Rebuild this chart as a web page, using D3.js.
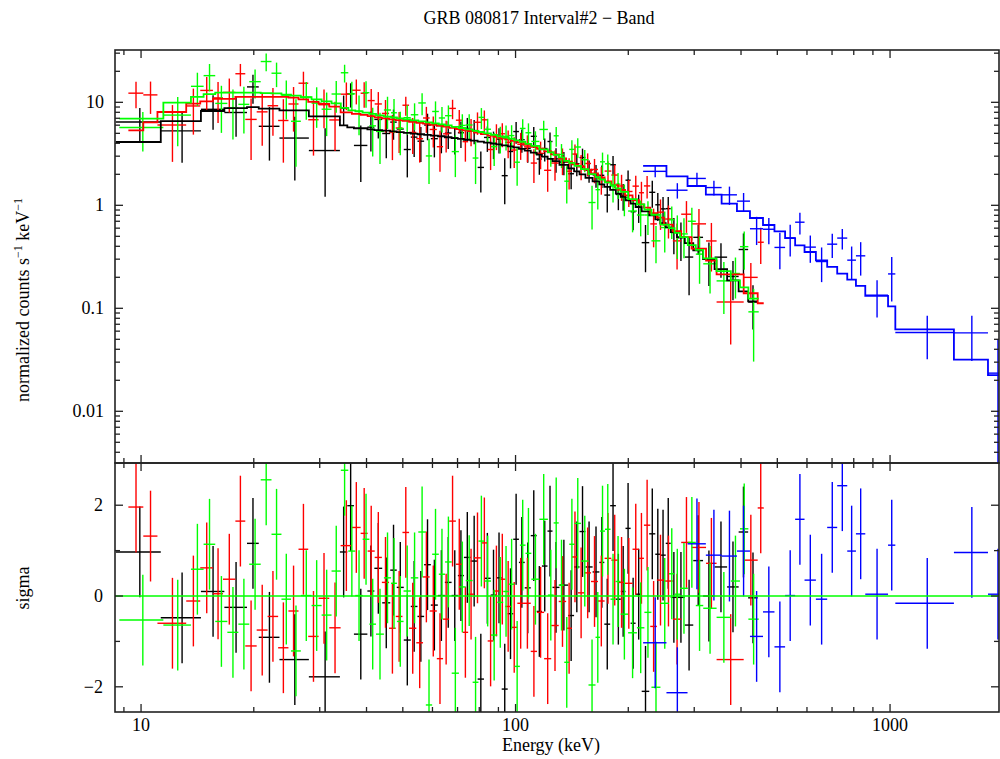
<!DOCTYPE html>
<html><head><meta charset="utf-8">
<script src="https://cdn.jsdelivr.net/npm/d3@7"></script>
<style>
body{margin:0;background:#fff}
svg{display:block}
text{font-family:"Liberation Serif","Times New Roman",serif;fill:#000}
</style>
</head><body>
<svg id="c" width="1000" height="759"></svg>
<script>
// ---------------- DATA ----------------
// Detector n0 (black) : bin edges (keV), folded model, residual (sigma), relative error
const blackEdges = [8.56, 11.29, 14.45, 16.69, 19.18, 20.62, 23.42, 28.06, 33.96, 35.54, 37.02, 40.21, 41.97, 44.05, 46.28, 48.17, 50.29, 52.51, 54.72, 57.00, 59.40, 62.01, 64.75, 67.48, 70.15, 72.80, 75.87, 79.20, 82.35, 85.82, 88.84, 91.84, 95.30, 98.60, 102.1, 105.8, 109.8, 113.9, 117.6, 121.7, 125.5, 131.0, 138.2, 143.3, 148.2, 153.7, 160.6, 167.4, 172.6, 178.9, 185.3, 191.0, 196.6, 202.9, 209.2, 217.2, 227.5, 236.1, 243.5, 251.8, 259.6, 269.8, 283.1, 298.2, 316.7, 340.0, 367.2, 394.2, 417.9, 443.2];
const blackModel = [4.12, 6.58, 8.24, 8.8, 9.0, 8.7, 8.36, 7.3, 5.98, 5.72, 5.6, 5.47, 5.38, 5.3, 5.23, 5.14, 5.05, 4.97, 4.9, 4.82, 4.74, 4.68, 4.58, 4.49, 4.41, 4.33, 4.24, 4.16, 4.07, 3.98, 3.91, 3.82, 3.74, 3.65, 3.53, 3.4, 3.25, 3.1, 2.97, 2.83, 2.68, 2.47, 2.28, 2.14, 2.0, 1.85, 1.71, 1.6, 1.51, 1.41, 1.3, 1.21, 1.12, 1.04, 0.96, 0.875, 0.8, 0.73, 0.67, 0.61, 0.55, 0.49, 0.43, 0.366, 0.3, 0.24, 0.187, 0.146, 0.117];
const blackSigma = [0.97, -0.48, 0.10, -0.25, 1.16, -0.91, -1.40, -1.78, 0.97, 1.99, -0.84, 0.11, 0.61, -0.15, 0.57, 0.19, -0.97, -0.23, -0.45, 0.69, -0.20, 0.01, 0.30, 0.01, 0.45, 0.85, 0.77, -1.83, 0.39, 0.02, 0.40, -2.05, -0.39, 1.25, 0.74, 0.18, 1.33, -0.34, 0.66, 1.43, 0.19, 0.24, -0.43, 0.64, 1.42, 0.64, 0.53, 0.74, -0.62, 1.99, -0.07, 0.10, 1.49, -0.60, 0.04, -2.10, 1.37, 0.92, 0.90, 1.16, -0.03, -0.03, -0.64, 0.78, 0.0, 0.64, 0.2, 1.41, -0.04];
const blackRelErr = [0.58, 0.41, 0.38, 0.38, 0.49, 0.36, 0.33, 0.30, 0.48, 0.56, 0.38, 0.44, 0.44, 0.40, 0.40, 0.37, 0.32, 0.33, 0.32, 0.36, 0.32, 0.32, 0.33, 0.31, 0.33, 0.34, 0.33, 0.24, 0.31, 0.30, 0.31, 0.24, 0.28, 0.34, 0.31, 0.29, 0.33, 0.27, 0.30, 0.33, 0.28, 0.27, 0.26, 0.29, 0.32, 0.29, 0.29, 0.30, 0.27, 0.38, 0.29, 0.30, 0.38, 0.28, 0.31, 0.24, 0.49, 0.42, 0.42, 0.45, 0.38, 0.40, 0.42, 0.43, 0.45, 0.48, 0.45, 1.1, 0.45];

// Detector n1 (red)
const redEdges = [9.25, 10.14, 11.06, 13.20, 14.39, 15.56, 16.55, 17.86, 18.98, 20.36, 21.77, 23.23, 24.75, 26.33, 27.95, 29.79, 31.81, 34.11, 36.56, 38.58, 40.28, 42.06, 43.96, 45.94, 47.87, 49.89, 51.96, 54.32, 56.62, 58.97, 61.63, 64.04, 66.49, 69.29, 72.21, 74.71, 77.43, 80.84, 84.25, 87.31, 90.50, 93.85, 97.27, 101.1, 105.3, 109.8, 114.1, 119.2, 124.5, 130.4, 136.5, 141.5, 146.7, 152.6, 159.0, 166.0, 172.9, 180.2, 187.8, 196.0, 205.3, 213.5, 220.2, 228.9, 238.5, 249.1, 263.0, 276.9, 295.1, 322.6, 344.2, 406.6, 443.2, 459.9];
const redModel = [5.35, 6.4, 8.05, 9.7, 10.2, 10.8, 10.8, 11.3, 11.3, 11.3, 11.3, 11.3, 11.1, 10.7, 10.1, 9.67, 9.1, 8.0, 7.73, 7.56, 7.34, 7.15, 6.99, 6.84, 6.72, 6.6, 6.48, 6.32, 6.21, 6.05, 5.91, 5.8, 5.65, 5.51, 5.35, 5.25, 5.08, 4.92, 4.75, 4.63, 4.47, 4.37, 4.23, 4.09, 3.87, 3.7, 3.54, 3.34, 3.12, 2.86, 2.65, 2.5, 2.37, 2.22, 2.04, 1.87, 1.71, 1.57, 1.41, 1.25, 1.12, 1.02, 0.95, 0.84, 0.76, 0.65, 0.56, 0.49, 0.38, 0.29, 0.214, 0.14, 0.112];
const redSigma = [1.96, 1.32, -0.60, -0.11, 0.62, 0.05, 0.37, 1.65, -1.10, -0.75, -0.45, -1.14, -0.33, 1.03, -0.89, -0.05, -0.70, 1.11, 1.51, 1.38, 0.99, 0.85, 0.30, -0.71, -0.45, 1.40, -0.71, -1.03, 0.42, -0.33, -1.38, -0.51, 1.65, 0.70, -0.80, 0.04, 0.84, 1.17, -0.99, 0.11, 0.37, -0.23, -0.69, -0.16, -0.16, -1.22, -0.36, -1.38, -0.65, -0.12, -0.71, 0.86, 0.07, 0.51, 0.32, -0.11, 0.83, 0.79, 0.30, 0.28, 1.03, 0.83, 1.56, -0.67, 0.35, 0.33, -0.51, 1.18, 1.07, 0.72, -1.40, 0.79, 1.94];
const redRelErr = [0.66, 0.64, 0.42, 0.45, 0.45, 0.44, 0.42, 0.41, 0.36, 0.38, 0.40, 0.36, 0.40, 0.42, 0.37, 0.40, 0.37, 0.45, 0.46, 0.45, 0.42, 0.41, 0.39, 0.35, 0.36, 0.30, 0.30, 0.29, 0.32, 0.30, 0.27, 0.29, 0.33, 0.31, 0.28, 0.30, 0.31, 0.32, 0.27, 0.29, 0.29, 0.28, 0.27, 0.28, 0.28, 0.25, 0.27, 0.25, 0.27, 0.28, 0.27, 0.30, 0.28, 0.29, 0.29, 0.29, 0.31, 0.32, 0.31, 0.32, 0.36, 0.36, 0.40, 0.32, 0.37, 0.40, 0.38, 0.57, 0.69, 0.77, 0.33, 0.54, 1.5];

// Detector n2 (green)
const greenEdges = [8.75, 11.47, 13.59, 14.69, 15.78, 17.00, 18.19, 19.45, 20.87, 22.30, 23.71, 25.14, 26.71, 28.53, 30.35, 32.26, 34.15, 35.76, 37.34, 39.06, 40.70, 42.40, 44.51, 46.51, 48.22, 50.23, 52.51, 54.99, 57.60, 59.88, 62.39, 64.83, 67.53, 70.59, 73.60, 76.81, 79.60, 82.51, 85.98, 89.38, 92.70, 95.95, 99.27, 102.7, 106.3, 110.2, 115.8, 122.0, 126.4, 130.4, 134.9, 139.1, 143.7, 149.5, 156.6, 163.5, 168.1, 173.3, 179.3, 184.9, 190.7, 199.8, 210.9, 220.8, 230.6, 243.7, 256.8, 265.8, 274.9, 288.4, 302.9, 317.1, 344.2, 375.7, 397.4, 418.5, 446.0];
const greenModel = [6.95, 9.93, 11.3, 12.0, 12.4, 12.4, 12.4, 12.4, 12.3, 12.2, 11.9, 11.6, 11.2, 10.7, 10.2, 9.78, 8.84, 8.36, 8.18, 7.94, 7.73, 7.48, 7.26, 7.12, 6.99, 6.84, 6.69, 6.54, 6.39, 6.25, 6.11, 5.98, 5.78, 5.63, 5.47, 5.29, 5.15, 5.0, 4.84, 4.68, 4.55, 4.43, 4.28, 4.14, 3.95, 3.78, 3.5, 3.27, 3.09, 2.92, 2.7, 2.58, 2.41, 2.25, 2.01, 1.88, 1.78, 1.67, 1.57, 1.46, 1.35, 1.15, 1.02, 0.91, 0.81, 0.65, 0.6, 0.54, 0.49, 0.41, 0.37, 0.306, 0.23, 0.187, 0.16, 0.124];
const greenSigma = [-0.53, -0.64, 0.59, 1.14, -0.56, -0.80, -0.62, 0.70, 2.56, 1.36, -0.07, -1.21, 0.01, -0.21, -0.42, 0.55, 2.77, 0.99, 0.01, 1.25, -0.62, -0.84, 0.40, 0.28, -0.56, 0.11, 0.40, 1.41, -2.40, 0.92, 0.48, 0.75, -1.70, 0.20, 0.34, -1.90, 1.21, 0.33, -0.86, -0.14, 0.10, 0.26, -1.55, 1.12, 0.94, 0.37, 1.69, 0.02, 1.61, 0.24, -1.46, 1.14, 1.60, 0.77, -1.96, -0.91, 1.43, 1.47, -0.07, 0.32, -0.40, -0.81, -0.70, -0.36, -2.01, -0.16, 0.49, 0.04, 0.17, 1.18, -0.21, -0.27, -0.47, 0.33, 1.48, -0.51];
const greenRelErr = [0.34, 0.38, 0.45, 0.45, 0.38, 0.36, 0.37, 0.40, 0.40, 0.42, 0.40, 0.36, 0.40, 0.39, 0.38, 0.42, 0.43, 0.45, 0.42, 0.45, 0.38, 0.36, 0.40, 0.40, 0.36, 0.33, 0.33, 0.36, 0.22, 0.33, 0.32, 0.32, 0.25, 0.30, 0.30, 0.24, 0.32, 0.29, 0.27, 0.28, 0.28, 0.28, 0.25, 0.31, 0.30, 0.28, 0.33, 0.28, 0.33, 0.28, 0.25, 0.31, 0.33, 0.30, 0.24, 0.27, 0.34, 0.35, 0.30, 0.31, 0.30, 0.29, 0.30, 0.32, 0.22, 0.40, 0.42, 0.46, 0.45, 0.60, 0.44, 0.43, 0.42, 0.50, 1.0, 0.50];

// Detector b0 (blue, BGO)
const blueEdges = [219.1, 252.9, 287.9, 322.2, 355.0, 390.1, 422.6, 457.9, 491.3, 524.5, 557.9, 591.1, 633.8, 679.4, 722.6, 768.6, 810.8, 858.7, 987.8, 1033, 1481, 1826, 2057];
const blueModel = [2.41, 1.91, 1.54, 1.27, 1.04, 0.88, 0.753, 0.644, 0.559, 0.481, 0.409, 0.352, 0.292, 0.252, 0.217, 0.19, 0.165, 0.132, 0.1045, 0.0625, 0.0318, 0.0224];
const blueSigma = [-1.03, -2.13, 1.15, 0.90, 0.88, 0.99, -0.89, -0.35, -1.12, 0.01, 1.69, 0.35, -0.07, 1.51, 2.43, 0.99, 1.37, 0.04, 1.12, -0.16, 0.96, 0.04];
const blueRelErr = [0.11, 0.125, 0.16, 0.19, 0.245, 0.25, 0.24, 0.26, 0.27, 0.34, 0.40, 0.33, 0.36, 0.44, 0.50, 0.55, 0.70, 0.40, 0.95, 0.42, 0.85, 1.2];

const xMajorTicks = [10, 100, 1000];
const xTickLabels = ["10", "100", "1000"];
const yTopMajorTicks = [0.01, 0.1, 1, 10];
const yTopTickLabels = ["0.01", "0.1", "1", "10"];
const yResMajorTicks = [-2, 0, 2];
const yResTickLabels = ["\u22122", "0", "2"];
const yResMinorTicks = [-1, 1];

const titleText = "GRB 080817 Interval#2 \u2212 Band";

// ---------------- LAYOUT ----------------
const L = 115, R = 999, T1 = 50, B1 = 463, T2 = 463, B2 = 712;
const svg = d3.select("#c");

const x = d3.scaleLog().domain([8.52, 1954]).range([L, R]);
const yTop = d3.scaleLog().domain([Math.pow(10, -2.502), Math.pow(10, 1.508)]).range([B1, T1]);
const yRes = d3.scaleLinear().domain([-2.555, 2.93]).range([B2, T2]);
const yMin = yTop.domain()[0];

const defs = svg.append("defs");
defs.append("clipPath").attr("id", "clipTop").append("rect").attr("x", L).attr("y", T1).attr("width", R - L).attr("height", B1 - T1);
defs.append("clipPath").attr("id", "clipRes").append("rect").attr("x", L).attr("y", T2).attr("width", R - L).attr("height", B2 - T2);

const series = [
  {edges: blackEdges, model: blackModel, sigma: blackSigma, rel: blackRelErr, color: "#000000"},
  {edges: redEdges, model: redModel, sigma: redSigma, rel: redRelErr, color: "#ff0000"},
  {edges: greenEdges, model: greenModel, sigma: greenSigma, rel: greenRelErr, color: "#00ff00"},
  {edges: blueEdges, model: blueModel, sigma: blueSigma, rel: blueRelErr, color: "#0000ff"}
];

function bins(s) {
  return s.model.map((m, i) => {
    const lo = s.edges[i], hi = s.edges[i + 1];
    const err = m * s.rel[i];
    const d = m + s.sigma[i] * err;
    return {lo, hi, c: (lo + hi) / 2, m, err, d, r: s.sigma[i]};
  });
}

const gTop = svg.append("g").attr("clip-path", "url(#clipTop)");
const gRes = svg.append("g").attr("clip-path", "url(#clipRes)");

// data crosses (top)
series.forEach(s => {
  const b = bins(s);
  const g = gTop.append("g").attr("stroke", s.color).attr("stroke-width", 1.4).attr("fill", "none");
  g.selectAll("line.h").data(b).enter().append("line")
    .attr("x1", d => x(d.lo)).attr("x2", d => x(d.hi))
    .attr("y1", d => yTop(d.d)).attr("y2", d => yTop(d.d));
  g.selectAll("line.v").data(b).enter().append("line")
    .attr("x1", d => x(d.c)).attr("x2", d => x(d.c))
    .attr("y1", d => yTop(d.d + d.err))
    .attr("y2", d => yTop(Math.max(d.d - d.err, yMin * 0.5)));
});

// model step lines (top)
series.forEach(s => {
  const b = bins(s);
  const p = d3.path();
  b.forEach((d, i) => {
    if (i === 0) p.moveTo(x(d.lo), yTop(d.m)); else p.lineTo(x(d.lo), yTop(d.m));
    p.lineTo(x(d.hi), yTop(d.m));
  });
  gTop.append("path").attr("d", p.toString()).attr("fill", "none")
    .attr("stroke", s.color).attr("stroke-width", 1.8);
});

// residuals
series.forEach(s => {
  const b = bins(s);
  const g = gRes.append("g").attr("stroke", s.color).attr("stroke-width", 1.4).attr("fill", "none");
  g.selectAll("line.h").data(b).enter().append("line")
    .attr("x1", d => x(d.lo)).attr("x2", d => x(d.hi))
    .attr("y1", d => yRes(d.r)).attr("y2", d => yRes(d.r));
  g.selectAll("line.v").data(b).enter().append("line")
    .attr("x1", d => x(d.c)).attr("x2", d => x(d.c))
    .attr("y1", d => yRes(d.r + 1)).attr("y2", d => yRes(d.r - 1));
});
gRes.append("line").attr("x1", L).attr("x2", R).attr("y1", yRes(0)).attr("y2", yRes(0))
  .attr("stroke", "#00ff00").attr("stroke-width", 1.6);

// ---------------- AXES ----------------
const axCol = "#222";
const ax = svg.append("g").attr("stroke", axCol).attr("fill", "none");
ax.append("rect").attr("x", L).attr("y", T1).attr("width", R - L).attr("height", B1 - T1).attr("stroke-width", 1.6);
ax.append("rect").attr("x", L).attr("y", T2).attr("width", R - L).attr("height", B2 - T2).attr("stroke-width", 1.6);

const MAJ = 8, MIN = 5;
const xTicksAll = x.ticks(30).filter(v => v >= x.domain()[0] && v <= x.domain()[1]);
xTicksAll.forEach(v => {
  const isMaj = xMajorTicks.includes(v);
  const len = isMaj ? MAJ : MIN;
  const px = x(v);
  [[T1, 1], [B1, -1], [T2, 1], [B2, -1]].forEach(([y0, dir]) => {
    ax.append("line").attr("x1", px).attr("x2", px).attr("y1", y0).attr("y2", y0 + dir * len).attr("stroke-width", 1.3);
  });
});
const yTicksAll = yTop.ticks(30).filter(v => v >= yTop.domain()[0] && v <= yTop.domain()[1]);
yTicksAll.forEach(v => {
  const isMaj = yTopMajorTicks.some(m => Math.abs(m - v) / m < 1e-6);
  const len = isMaj ? MAJ : MIN;
  const py = yTop(v);
  ax.append("line").attr("x1", L).attr("x2", L + len).attr("y1", py).attr("y2", py).attr("stroke-width", 1.3);
  ax.append("line").attr("x1", R).attr("x2", R - len).attr("y1", py).attr("y2", py).attr("stroke-width", 1.3);
});
yResMajorTicks.concat(yResMinorTicks).forEach(v => {
  const len = yResMajorTicks.includes(v) ? MAJ : MIN;
  const py = yRes(v);
  ax.append("line").attr("x1", L).attr("x2", L + len).attr("y1", py).attr("y2", py).attr("stroke-width", 1.3);
  ax.append("line").attr("x1", R).attr("x2", R - len).attr("y1", py).attr("y2", py).attr("stroke-width", 1.3);
});

// labels
const FS = 18;
const lab = svg.append("g").style("font-size", FS + "px");
xMajorTicks.forEach((v, i) => {
  lab.append("text").attr("x", x(v)).attr("y", 731).attr("text-anchor", "middle").text(xTickLabels[i]);
});
yTopMajorTicks.forEach((v, i) => {
  lab.append("text").attr("x", 104).attr("y", yTop(v) + 6).attr("text-anchor", "end").text(yTopTickLabels[i]);
});
yResMajorTicks.forEach((v, i) => {
  lab.append("text").attr("x", 103).attr("y", yRes(v) + 6).attr("text-anchor", "end").text(yResTickLabels[i]);
});

lab.append("text").attr("x", 539).attr("y", 24).attr("text-anchor", "middle").text(titleText);
lab.append("text").attr("x", 551).attr("y", 751).attr("text-anchor", "middle").text("Energy (keV)");

const yl = lab.append("text").attr("transform", "translate(29,300) rotate(-90)").attr("text-anchor", "middle");
yl.append("tspan").text("normalized counts s");
yl.append("tspan").attr("dy", -7).style("font-size", "12px").text("\u22121");
yl.append("tspan").attr("dy", 7).text(" keV");
yl.append("tspan").attr("dy", -7).style("font-size", "12px").text("\u22121");

lab.append("text").attr("transform", "translate(29,588) rotate(-90)").attr("text-anchor", "middle").text("sigma");
</script>
</body></html>
